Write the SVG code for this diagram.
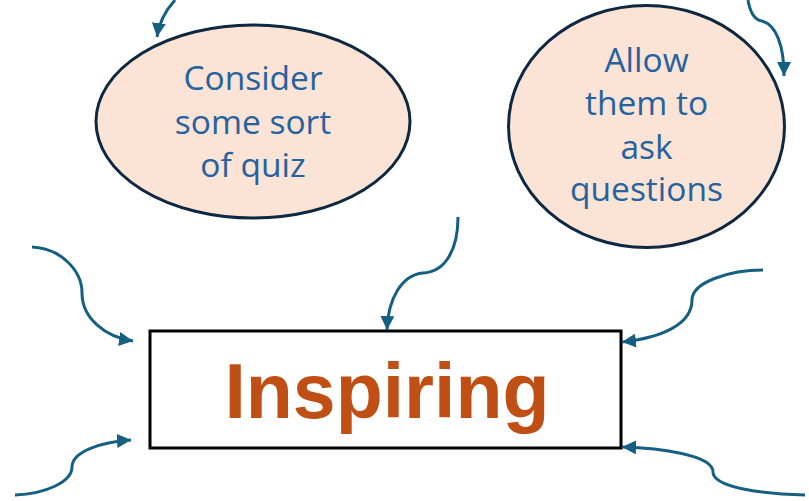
<svg xmlns="http://www.w3.org/2000/svg" width="809" height="501" viewBox="0 0 809 501">
<defs>
<style>
.bubble{fill:#FBE3D6;stroke:#0E2841;stroke-width:3}
.btxt{font-family:"Open Sans","Liberation Sans",sans-serif;font-size:33.5px;fill:#25629E;text-anchor:middle}
.box{fill:#FFFFFF;stroke:#000000;stroke-width:3}
.title{font-family:"Liberation Sans",Arial,sans-serif;font-weight:bold;font-size:77px;fill:#C04F15;text-anchor:middle}
.conn{fill:none;stroke:#156082;stroke-width:3;marker-end:url(#ah)}
</style>
<marker id="ah" markerUnits="userSpaceOnUse" markerWidth="14" markerHeight="14" viewBox="0 0 14 14" refX="14" refY="7" orient="auto">
<path d="M0,0 L14,7 L0,14 Z" fill="#156082"/>
</marker>
</defs>
<rect width="809" height="501" fill="#FFFFFF"/>
<g id="node-quiz">
<ellipse class="bubble" cx="253" cy="121.5" rx="157" ry="96.5"/>
<text class="btxt" x="253" y="90">Consider</text>
<text class="btxt" x="253" y="133.5">some sort</text>
<text class="btxt" x="253" y="177">of quiz</text>
</g>
<g id="node-questions">
<ellipse class="bubble" cx="646.5" cy="126.5" rx="138" ry="121"/>
<text class="btxt" x="646.5" y="72">Allow</text>
<text class="btxt" x="646.5" y="115">them to</text>
<text class="btxt" x="646.5" y="159">ask</text>
<text class="btxt" x="646.5" y="201">questions</text>
</g>
<g id="node-inspiring">
<rect class="box" x="150" y="331" width="471" height="117"/>
<text class="title" x="387" y="418">Inspiring</text>
</g>
<g id="connectors">
<path class="conn" d="M175,0 C166,10 159,22 157,37"/>
<path class="conn" d="M748,0 C750,12 755,20 762,21 C776,25 784,45 784,76"/>
<path class="conn" d="M458,217 C458,250 445,272 423,273 C402,275 388,298 387,330"/>
<path class="conn" d="M32,247 C60,248 82,270 82,293 C82,318 105,337 133,341"/>
<path class="conn" d="M15,495 C45,494 72,482 72,467 C72,452 100,442 131,440"/>
<path class="conn" d="M763,270 C730,270 692,282 692,300 C692,325 660,338 622,342"/>
<path class="conn" d="M805,495 C760,494 713,487 713,472 C713,455 660,448 622,447"/>
</g>
</svg>
